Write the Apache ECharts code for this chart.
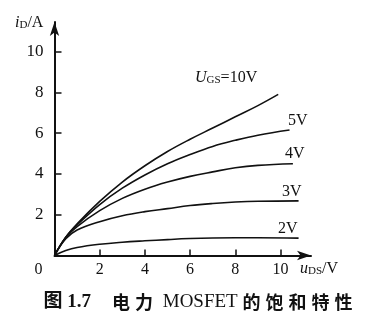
<!DOCTYPE html>
<html>
<head>
<meta charset="utf-8">
<script src="https://cdn.jsdelivr.net/npm/echarts@6/dist/echarts.min.js"></script>
<style>
  html, body { margin: 0; padding: 0; background: #fff; }
  #chart { width: 365px; height: 324px; }
</style>
</head>
<body>
<div id="chart"></div>
<script>
// Drain voltage u_DS (V) sample points and drain current i_D (A) per gate voltage
const uDS10 = [0, 0.5, 1, 2, 3, 4, 5, 6, 7, 8, 9, 9.9];
const iD10  = [0, 0.9, 1.55, 2.65, 3.6, 4.4, 5.1, 5.7, 6.25, 6.8, 7.35, 7.9];

const uDS5 = [0, 0.5, 1, 2, 3, 4, 5, 6, 7, 8, 9, 10.4];
const iD5  = [0, 0.9, 1.5, 2.5, 3.3, 3.95, 4.5, 4.95, 5.35, 5.65, 5.9, 6.15];

const uDS4 = [0, 0.5, 1, 2, 3, 4, 5, 6, 7, 8, 9, 10.55];
const iD4  = [0, 0.88, 1.42, 2.2, 2.8, 3.25, 3.6, 3.88, 4.1, 4.3, 4.42, 4.5];

const uDS3 = [0, 0.5, 1, 2, 3, 4, 5, 6, 7, 8, 9, 10.8];
const iD3  = [0, 0.82, 1.25, 1.66, 1.95, 2.15, 2.3, 2.45, 2.55, 2.62, 2.66, 2.68];

const uDS2 = [0, 0.5, 1, 2, 3, 4, 5, 6, 7, 8, 9, 10.8];
const iD2  = [0, 0.24, 0.39, 0.55, 0.65, 0.72, 0.78, 0.83, 0.86, 0.87, 0.87, 0.85];

const xTicks = [0, 2, 4, 6, 8, 10];
const yTicks = [2, 4, 6, 8, 10];
const curveNames = ['10V', '5V', '4V', '3V', '2V'];
const captionNo = '图 1.7';
const captionTitle = '电力 MOSFET 的饱和特性';

const pairs = (xs, ys) => xs.map((x, i) => [x, ys[i]]);
const curves = [
  pairs(uDS10, iD10), pairs(uDS5, iD5), pairs(uDS4, iD4),
  pairs(uDS3, iD3), pairs(uDS2, iD2)
];

const serif = '"Liberation Serif", "DejaVu Serif", serif';
const cjk = '"Noto Sans CJK SC", sans-serif';
const black = '#111';

// Split the title into rich-text runs: CJK characters get a little tracking,
// Latin runs are set in the serif face.
function titleRich(str) {
  const parts = [];
  let latin = '';
  for (const ch of str) {
    if (/[\u4e00-\u9fff]/.test(ch)) {
      if (latin) { parts.push('{m|' + latin + '}'); latin = ''; }
      parts.push('{c|' + ch + '}');
    } else {
      latin += ch;
    }
  }
  if (latin) parts.push('{m|' + latin + '}');
  return parts.join('');
}

// Italic symbol with an upright subscript, followed by plain text
function symbolRich(sym, sub, rest) {
  return '{i|' + sym + '}{s|' + sub + '}{n|' + rest + '}';
}
const symbolStyles = {
  i: { fontFamily: serif, fontStyle: 'italic', fontSize: 16, fill: black, lineHeight: 18 },
  s: { fontFamily: serif, fontSize: 11, fill: black, lineHeight: 14, padding: [5, 0, 0, 0] },
  n: { fontFamily: serif, fontSize: 16, fill: black, lineHeight: 18 }
};

const chart = echarts.init(document.getElementById('chart'), null, { renderer: 'canvas' });

const axisLineStyle = { color: black, width: 2 };

chart.setOption({
  animation: false,
  backgroundColor: '#fff',
  grid: { left: 54.5, right: 54, top: 22, bottom: 68.5, containLabel: false },
  xAxis: {
    type: 'value', min: 0, max: 11.35, interval: 2,
    splitLine: { show: false },
    axisLine: { lineStyle: axisLineStyle, symbol: ['none', 'arrow'], symbolSize: [7, 14] },
    axisTick: { inside: true, length: 6, lineStyle: { color: black, width: 1.5 }, customValues: yTicks },
    axisLabel: {
      customValues: xTicks, margin: 6, color: black, fontFamily: serif, fontSize: 16,
      formatter: v => v === 0 ? '{o|0}' : String(v),
      rich: { o: { padding: [0, 32, 0, 0], fontFamily: serif, fontSize: 16, color: black } }
    }
  },
  yAxis: {
    type: 'value', min: 0, max: 11.45, interval: 2,
    splitLine: { show: false },
    axisLine: { lineStyle: axisLineStyle, symbol: ['none', 'arrow'], symbolSize: [7, 14] },
    axisTick: { inside: true, length: 7, lineStyle: { color: black, width: 1.5 }, customValues: yTicks },
    axisLabel: { customValues: yTicks, margin: 11, color: black, fontFamily: serif, fontSize: 17 }
  },
  series: curves.map((d, k) => ({
    name: curveNames[k], type: 'line', data: d, smooth: 0.4, showSymbol: false,
    lineStyle: { color: black, width: 1.6 }
  })),
  graphic: [
    { type: 'text', left: 15, top: 15, style: { text: symbolRich('i', 'D', '/A'), rich: symbolStyles } },
    { type: 'text', left: 300, top: 261, style: { text: symbolRich('u', 'DS', '/V'), rich: symbolStyles } },
    { type: 'text', left: 195, top: 70, style: { text: symbolRich('U', 'GS', '=' + curveNames[0]), rich: symbolStyles } },
    { type: 'text', left: 288, top: 113, style: { text: curveNames[1], font: '16px ' + serif, fill: black } },
    { type: 'text', left: 285, top: 146, style: { text: curveNames[2], font: '16px ' + serif, fill: black } },
    { type: 'text', left: 282, top: 184, style: { text: curveNames[3], font: '16px ' + serif, fill: black } },
    { type: 'text', left: 278, top: 221, style: { text: curveNames[4], font: '16px ' + serif, fill: black } },
    {
      type: 'text', x: 91, y: 302,
      style: {
        text: captionNo, align: 'right', verticalAlign: 'middle',
        font: 'bold 19px ' + serif + ', ' + cjk, fill: black
      }
    },
    {
      type: 'text', x: 112, y: 302,
      style: {
        text: titleRich(captionTitle), align: 'left', verticalAlign: 'middle',
        rich: {
          c: { fontFamily: cjk, fontSize: 18, fontWeight: 'bold', fill: black, padding: [0, 5, 0, 0], lineHeight: 22 },
          m: { fontFamily: serif, fontSize: 19, fill: black, lineHeight: 22 }
        }
      }
    }
  ]
});
</script>
</body>
</html>
